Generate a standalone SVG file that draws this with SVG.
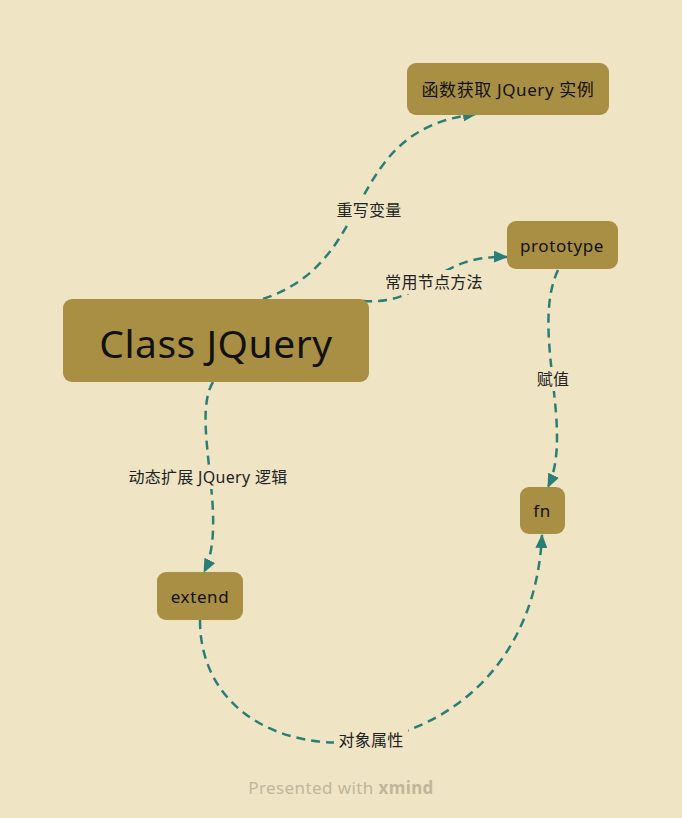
<svg xmlns="http://www.w3.org/2000/svg" width="682" height="818" viewBox="0 0 682 818">
<defs>
<marker id="arr" markerUnits="userSpaceOnUse" markerWidth="14" markerHeight="12" viewBox="0 0 14 12" refX="13" refY="6" orient="auto">
<path d="M0,0 L14,6 L0,12 Z" fill="#2A7E78"/>
</marker>
<style>
.node rect{fill:#A98F44;}
.node text{font-family:"Noto Sans","Noto Sans CJK SC",sans-serif;fill:#111;text-anchor:middle;dominant-baseline:central;}
.conn path{fill:none;stroke:#2A7E78;stroke-width:2.5;stroke-dasharray:9 6;marker-end:url(#arr);}
.lbl rect{fill:#EFE5C5;}
.lbl text{font-family:"Noto Sans","Noto Sans CJK SC",sans-serif;font-size:16px;letter-spacing:0.3px;fill:#222;text-anchor:middle;dominant-baseline:central;}
</style>
</defs>
<rect width="682" height="818" fill="#EFE5C5"/>
<g id="connectors" class="conn">
<path d="M263,299 C380,260 340,130 476,114"/>
<path d="M363,301 C430,305 430,255 507,257"/>
<path d="M558,270 C530,330 575,430 548,487"/>
<path d="M213,382 C190,420 230,520 204,572"/>
<path d="M200,620 C200,800 530,790 542,535"/>
</g>
<g id="labels" class="lbl">
<rect x="333" y="198" width="72" height="24"/><text x="369" y="210">重写变量</text>
<rect x="382" y="270" width="104" height="24"/><text x="434" y="282">常用节点方法</text>
<rect x="533" y="367" width="40" height="24"/><text x="553" y="379">赋值</text>
<rect x="124" y="465" width="168" height="24"/><text x="208" y="477">动态扩展 JQuery 逻辑</text>
<rect x="334" y="728" width="74" height="24"/><text x="371" y="740">对象属性</text>
</g>
<g id="node-class" class="node"><rect x="63" y="299" width="306" height="83" rx="9"/><text x="216" y="342" font-size="39" letter-spacing="0.5">Class JQuery</text></g>
<g id="node-func" class="node"><rect x="407" y="63" width="202" height="52" rx="9"/><text x="508" y="89" font-size="17" letter-spacing="0.6">函数获取 JQuery 实例</text></g>
<g id="node-prototype" class="node"><rect x="507" y="221" width="111" height="48" rx="9"/><text x="562" y="245" font-size="17" letter-spacing="0.6">prototype</text></g>
<g id="node-fn" class="node"><rect x="520" y="487" width="45" height="47" rx="9"/><text x="542" y="510" font-size="17" letter-spacing="0.6">fn</text></g>
<g id="node-extend" class="node"><rect x="157" y="572" width="86" height="48" rx="9"/><text x="200" y="596" font-size="17" letter-spacing="0.6">extend</text></g>
<text x="341" y="787" font-family="'Noto Sans',sans-serif" font-size="17" letter-spacing="0.4" fill="#C0B699" text-anchor="middle" dominant-baseline="central">Presented with <tspan font-weight="bold">xmind</tspan></text>
</svg>
